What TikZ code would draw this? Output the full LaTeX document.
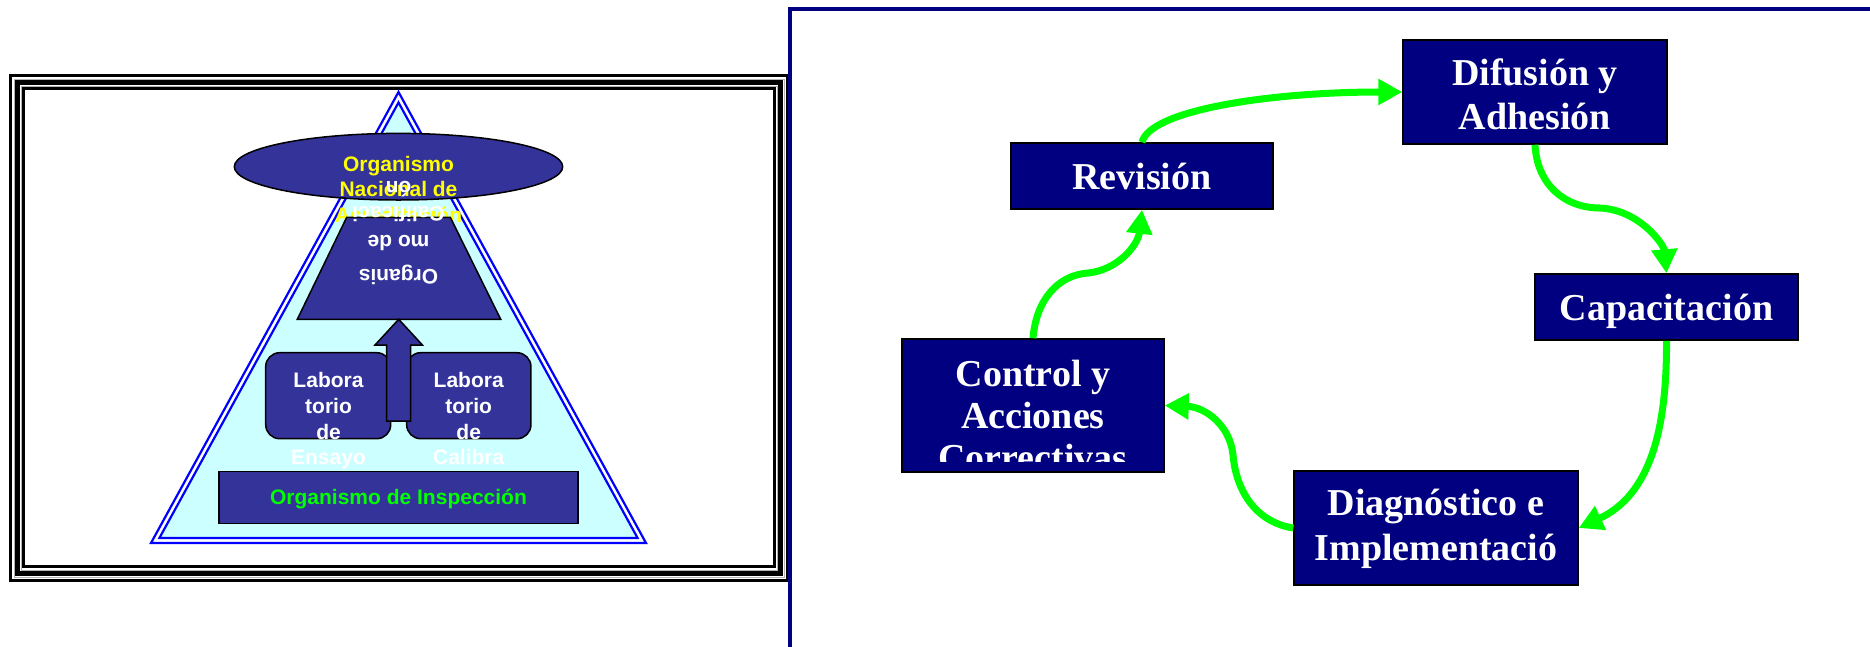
\documentclass[tikz,border=0pt]{standalone}
\usepackage{fontspec}
\setmainfont{Liberation Serif}
\newfontfamily\arialfont{Liberation Sans}
\usetikzlibrary{arrows.meta,shapes.geometric}

\definecolor{navybox}{RGB}{0,0,128}
\definecolor{slateblue}{RGB}{51,51,153}
\definecolor{palecyan}{RGB}{204,255,255}
\definecolor{vgreen}{RGB}{0,255,0}
\definecolor{pureblue}{RGB}{0,0,255}
\definecolor{vyellow}{RGB}{255,255,0}

\tikzset{
  shape outline/.style={draw=black, line width=1.5pt, fill=slateblue},
  labbox/.style={shape outline, rounded corners=14pt, inner sep=0pt},
  ltxt/.style={font=\arialfont\bfseries\fontsize{21}{25.7}\selectfont, anchor=base, inner sep=0pt},
  rbox/.style={draw=black, line width=1.5pt, fill=navybox, inner sep=0pt},
  rtxt/.style={font=\bfseries\fontsize{38}{44}\selectfont, text=white, anchor=base, inner sep=0pt},
  garrow/.style={draw=vgreen, line width=7pt, -{Triangle[length=24pt,width=25pt]}},
}

\begin{document}
\begin{tikzpicture}[x=1pt,y=-1pt]
\useasboundingbox (0,0) rectangle (1870,646);
\clip (0,0) rectangle (1870,646);

% ---- left panel: framed pyramid ----
\draw[black, line width=3pt] (10.5,75.5) rectangle (787.5,580.5);
\draw[gray!60, line width=1pt] (14,79) rectangle (784,577);
\draw[black, line width=5pt] (17.5,82.5) rectangle (780.5,573.5);
\draw[gray!60, line width=1pt] (21,86) rectangle (777,570);
\draw[black, line width=2.5pt] (23.5,88.5) rectangle (774.5,566.5);

% pyramid with double blue outline
\draw[pureblue, line width=2.2pt] (398.5,92) -- (646,543) -- (151,543) -- cycle;
\draw[pureblue, line width=2.2pt, fill=palecyan] (398.5,102.5) -- (637.6,538) -- (159.4,538) -- cycle;

% top: national accreditation body
\node[shape outline, ellipse, minimum width=328.4pt, minimum height=66.6pt, inner sep=0pt] (ona) at (398.5,166.7) {};
\node[ltxt, text=vyellow] (ona1) at (398.5,171) {Organismo};
\node[ltxt, text=vyellow] (ona2) at (398.5,196.7) {Nacional de};
\node[ltxt, text=vyellow] (ona3) at (398.5,222.4) {Acreditación};

% certification body (trapezium)
\draw[shape outline] (346.7,217.3) coordinate (tz1) -- (450.3,217.3) coordinate (tz2)
  -- (500.7,319.3) coordinate (tz3) -- (297.3,319.3) coordinate (tz4) -- cycle;

% laboratories
\node[labbox, minimum width=125pt, minimum height=86pt] (labE) at (328.2,395.7) {};
\node[labbox, minimum width=124.3pt, minimum height=86pt] (labC) at (468.8,395.7) {};

% block arrow up to the certification body
\draw[shape outline] (398.7,319.3) -- (422.4,345) -- (410.7,345) -- (410.7,421)
  -- (386.7,421) -- (386.7,345) -- (375,345) -- cycle;

\foreach \t [count=\i] in {Labora,torio,de,Ensayo}
  \node[ltxt, text=white] (labEt\i) at (328.5,{387.7+25.7*(\i-1)}) {\t};
\foreach \t [count=\i] in {Labora,torio,de,Calibra}
  \node[ltxt, text=white] (labCt\i) at (468.7,{387.7+25.7*(\i-1)}) {\t};

% inspection body
\node[shape outline, inner sep=0pt, minimum width=359pt, minimum height=51.6pt] (insp) at (398.7,497.5) {};
\node[ltxt, text=vgreen] (inspt) at (398.5,504) {Organismo de Inspección};

% upside-down label of the trapezium
\node[ltxt, text=white, rotate=180] (oc1) at (398.5,269.5) {Organis};
\node[ltxt, text=white, rotate=180] (oc2) at (398.5,235) {mo de};
\node[ltxt, text=white, rotate=180] (oc3) at (398.5,206) {Calificaci};
\node[ltxt, text=white, rotate=180] (oc4) at (398.5,181) {ón};

% ---- right panel: improvement cycle ----
\draw[navybox, line width=4pt, line join=miter] (790,700) -- (790,9) -- (1900,9);

\node[rbox, minimum width=264pt, minimum height=104pt] (dif) at (1535,92) {};
\node[rbox, minimum width=262pt, minimum height=66pt] (rev) at (1142,176) {};
\node[rbox, minimum width=263pt, minimum height=66pt] (cap) at (1666.5,307) {};
\node[rbox, minimum width=262pt, minimum height=133pt] (ctrl) at (1033,405.5) {};
\node[rbox, minimum width=284pt, minimum height=114pt] (dia) at (1436,528) {};

\node[rtxt] (dif1) at (1535,85) {Difusión y};
\node[rtxt] (dif2) at (1535,129) {Adhesión};
\node[rtxt] (rev1) at (1142,189) {Revisión};
\node[rtxt] (cap1) at (1666.5,320) {Capacitación};
\node[rtxt] (dia1) at (1436,515) {Diagnóstico e};
\node[rtxt] (dia2) at (1436,560) {Implementació};
\begin{scope}
  \clip (903,340) rectangle (1164,461);
  \node[rtxt] (ctrl1) at (1033,386) {Control y};
  \node[rtxt] (ctrl2) at (1033,428) {Acciones};
  \node[rtxt] (ctrl3) at (1033,470) {Correctivas};
\end{scope}

\draw[garrow] (rev.north) .. controls (1150,110) and (1270,92) .. (dif.west);
\draw[garrow] (dif.south) .. controls (1537,185) and (1565,208) .. (1600,208)
  .. controls (1640,210) and (1664,245) .. (cap.north);
\draw[garrow] (cap.south) .. controls (1667,430) and (1650,495) .. (dia.east);
\draw[garrow] (dia.west) .. controls (1255,522) and (1236,490) .. (1233,455)
  .. controls (1230,425) and (1205,407) .. (ctrl.east);
\draw[garrow] (ctrl.north) .. controls (1036,300) and (1058,275) .. (1088,273)
  .. controls (1118,270) and (1138,245) .. (rev.south);
\end{tikzpicture}
\end{document}
